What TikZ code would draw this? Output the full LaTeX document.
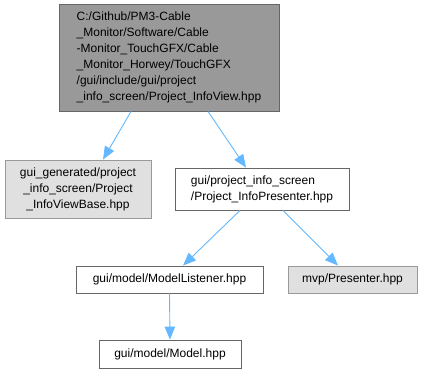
\documentclass[tikz,border=0pt]{standalone}
\usepackage{fontspec}
\setmainfont{Liberation Sans}
\usepackage{xcolor}
\usetikzlibrary{arrows.meta, positioning}

\definecolor{edgeblue}{HTML}{63B8FF}
\definecolor{rootfill}{HTML}{999999}
\definecolor{extfill}{HTML}{E0E0E0}

\begin{document}
\begin{tikzpicture}[x=1pt, y=-1pt,
  % Node styles
  file/.style={draw=black!60, fill=white, line width=0.9pt, inner sep=0pt,
               font=\fontsize{12}{16}\selectfont},
  root/.style={file, fill=rootfill, draw=black!60},
  ext/.style={file, fill=extfill, draw=black!40},
  % Arrow style
  dep/.style={-{Triangle[length=13pt, width=10.5pt]}, edgeblue, line width=0.9pt},
]
  \useasboundingbox (0,0) rectangle (423,373);

  % ── Row 1: the view header ──
  \node[root, align=left, minimum width=220pt, minimum height=107pt] (view) at (169,57.5)
    {C:/Github/PM3-Cable\\\_Monitor/Software/Cable\\-Monitor\_TouchGFX/Cable\\\_Monitor\_Horwey/TouchGFX\\/gui/include/gui/project\\\_info\_screen/Project\_InfoView.hpp};

  % ── Row 2: base view and presenter ──
  \node[ext, align=center, minimum width=146pt, minimum height=58pt] (viewbase) at (78,189)
    {gui\_generated/project\\\_info\_screen/Project\\\_InfoViewBase.hpp};
  \node[file, align=left, minimum width=174pt, minimum height=42pt] (presenter) at (262,189)
    {gui/project\_info\_screen\\/Project\_InfoPresenter.hpp};

  % ── Row 3: listener and mvp ──
  \node[file, minimum width=187pt, minimum height=27pt] (listener) at (169.5,279.5)
    {gui/model/ModelListener.hpp};
  \node[ext, minimum width=129pt, minimum height=27pt] (mvp) at (352.5,279.5)
    {mvp/Presenter.hpp};

  % ── Row 4: model ──
  \node[file, minimum width=142pt, minimum height=28pt] (model) at (170,354)
    {gui/model/Model.hpp};

  % ── Include edges ──
  \draw[dep] ([xshift=-38pt]view.south) -- ([xshift=25pt]viewbase.north);
  \draw[dep] ([xshift=39pt]view.south) -- ([xshift=-16pt]presenter.north);
  \draw[dep] ([xshift=-22pt]presenter.south) -- ([xshift=13.5pt]listener.north);
  \draw[dep] ([xshift=21pt]presenter.south) -- ([xshift=-14.5pt]mvp.north);
  \draw[dep] (listener.south) -- (model.north);

\end{tikzpicture}
\end{document}
